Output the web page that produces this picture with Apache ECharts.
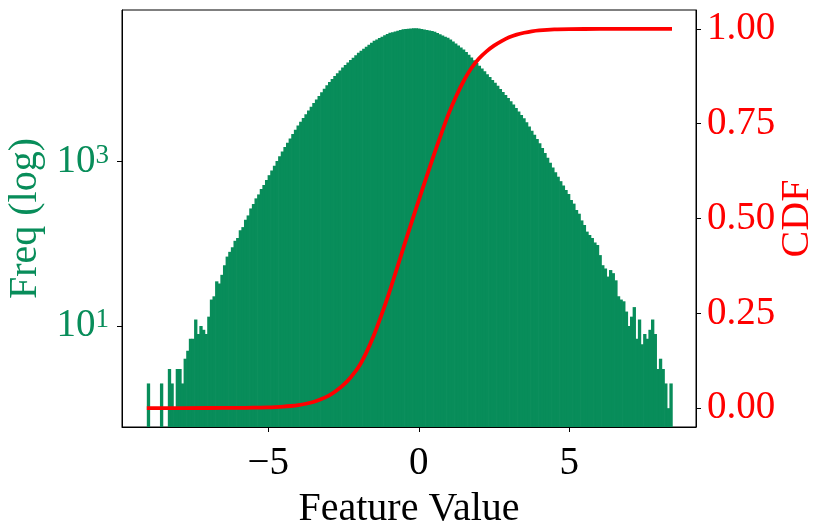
<!DOCTYPE html>
<html>
<head>
<meta charset="utf-8">
<script src="https://cdn.jsdelivr.net/npm/echarts@6/dist/echarts.min.js"></script>
<style>
html,body{margin:0;padding:0;background:#fff;}
#chart{width:831px;height:528px;}
</style>
</head>
<body>
<div id="chart"></div>
<script>
// ---- data ----
const binStart = -9.03;
const binWidth = 0.0872;
const counts = [
  2,0,0,0,0,2,0,0,3,2,
  1,3,3,2,4,5,7,7,12,8,
  10,9,8,13,21,23,35,33,42,55,
  70,80,91,109,118,146,160,197,222,270,
  305,358,400,466,521,601,686,783,894,1021,
  1167,1331,1510,1702,1919,2168,2443,2754,3069,3404,
  3784,4198,4656,5170,5715,6324,6990,7727,8543,9376,
  10160,11020,11940,12940,14000,15070,16140,17280,18490,19820,
  21230,22470,23770,25120,26580,28120,29680,30830,32020,33270,
  34580,35920,37040,37790,38550,39340,40140,40950,41400,41680,
  41960,42170,42030,41890,41300,40680,40090,39490,38920,38190,
  36900,35660,34460,33310,32190,30780,29100,27510,26010,24590,
  23240,21640,20060,18590,17220,15950,14770,13640,12590,11620,
  10720,9890,9120,8383,7705,7078,6508,5983,5464,4963,
  4503,4090,3715,3375,3016,2682,2388,2126,1892,1682,
  1466,1279,1116,974,850,744,657,580,512,453,
  405,342,309,258,233,193,170,141,128,118,
  104,97,73,55,50,40,48,44,36,23,
  21,20,15,10,13,17,7,12,6,8,
  7,9,12,8,3,4,3,2,1,2
];
const cdfX = [-9.03,-7,-6,-5.5,-5,-4.75,-4.5,-4.25,-4,-3.75,-3.5,-3.25,-3,-2.75,-2.5,-2.25,-2,-1.75,-1.5,-1.25,-1,-0.75,-0.5,-0.25,
  0,0.25,0.5,0.75,1,1.25,1.5,1.75,2,2.25,2.5,2.75,3,3.25,3.5,3.75,4,4.5,5,6,7,8.41];
const cdfY = [0,0.0001,0.0005,0.0009,0.0016,0.0024,0.0036,0.0054,0.0078,0.0113,0.016,0.023,0.032,0.045,0.061,0.082,0.108,0.145,0.19,0.243,0.30,0.362,0.425,0.487,
  0.548,0.608,0.667,0.724,0.778,0.824,0.864,0.897,0.922,0.941,0.956,0.968,0.978,0.985,0.990,0.9938,0.9963,0.9989,0.9997,0.99995,1.0,1.0];
const xTicks = [-5, 0, 5];
const freqTicks = [10, 1000];
const cdfTicks = [0, 0.25, 0.5, 0.75, 1];

// ---- chart ----
const GREEN = '#088d5a';
const RED = '#ff0000';
const FONT = "'Liberation Serif', 'Times New Roman', 'DejaVu Serif', serif";
const Y_MIN = 0.59, Y_MAX = 70300;

const histData = [];
counts.forEach((c, i) => {
  if (c > 0) histData.push([binStart + i * binWidth, binStart + (i + 1) * binWidth, c]);
});
const cdfData = cdfX.map((x, i) => [x, cdfY[i]]);

const chart = echarts.init(document.getElementById('chart'), null, {renderer: 'canvas'});
chart.setOption({
  animation: false,
  backgroundColor: '#fff',
  grid: {left: 122, top: 10, width: 574, height: 417, containLabel: false, outerBoundsMode: 'none',
    show: true, borderColor: '#000', borderWidth: 1, backgroundColor: 'transparent'},
  xAxis: {
    type: 'value', min: -9.854, max: 9.206,
    splitLine: {show: false},
    axisLine: {show: true, onZero: false, lineStyle: {color: '#000', width: 1}},
    axisTick: {show: true, length: 5, lineStyle: {color: '#000'}, customValues: xTicks},
    axisLabel: {
      customValues: xTicks, margin: 17, color: '#000', fontSize: 39, fontFamily: FONT,
      formatter: v => (v < 0 ? '\u2212' + Math.abs(v) : String(v))
    },
    name: 'Feature Value', nameLocation: 'middle', nameGap: 62,
    nameTextStyle: {color: '#000', fontSize: 40, fontFamily: FONT}
  },
  yAxis: [{
    type: 'log', min: Y_MIN, max: Y_MAX, position: 'left',
    splitLine: {show: false}, minorTick: {show: false},
    axisLine: {show: true, onZero: false, lineStyle: {color: '#000', width: 1}},
    axisTick: {show: true, length: 5, lineStyle: {color: '#000'}, customValues: freqTicks},
    axisLabel: {
      customValues: freqTicks, margin: 13, color: GREEN, fontFamily: FONT,
      formatter: v => '{b|10}{s|' + Math.round(Math.log10(v)) + '}',
      rich: {
        b: {fontSize: 39, fontFamily: FONT, color: GREEN, verticalAlign: 'bottom', lineHeight: 39, padding: [10, 0, 0, 0]},
        s: {fontSize: 27, fontFamily: FONT, color: GREEN, verticalAlign: 'top', lineHeight: 27}
      }
    },
    name: 'Freq (log)', nameLocation: 'middle', nameGap: 73, nameRotate: 90,
    nameTextStyle: {color: GREEN, fontSize: 40, fontFamily: FONT}
  }, {
    type: 'value', min: -0.05, max: 1.05, position: 'right',
    splitLine: {show: false},
    axisLine: {show: true, onZero: false, lineStyle: {color: '#000', width: 1}},
    axisTick: {show: true, length: 5, lineStyle: {color: '#000'}, customValues: cdfTicks},
    axisLabel: {
      customValues: cdfTicks, margin: 11, color: RED, fontSize: 39, fontFamily: FONT,
      formatter: v => v.toFixed(2)
    },
    name: 'CDF', nameLocation: 'middle', nameGap: 81, nameRotate: 90, nameMoveOverlap: false,
    nameTextStyle: {color: RED, fontSize: 40, fontFamily: FONT}
  }],
  series: [{
    type: 'custom',
    xAxisIndex: 0, yAxisIndex: 0,
    encode: {x: [0, 1], y: 2},
    clip: true,
    data: histData,
    renderItem: function (params, api) {
      const p0 = api.coord([api.value(0), Y_MIN]);
      const p1 = api.coord([api.value(1), api.value(2)]);
      return {
        type: 'rect',
        shape: {x: p0[0], y: p1[1], width: p1[0] - p0[0] + 0.7, height: p0[1] - p1[1]},
        style: {fill: GREEN}
      };
    },
    z: 1
  }, {
    type: 'line',
    xAxisIndex: 0, yAxisIndex: 1,
    data: cdfData,
    showSymbol: false, symbol: 'none',
    smooth: 0.3,
    lineStyle: {color: RED, width: 3.8, cap: 'butt', join: 'round'},
    z: 5
  }]
});
</script>
</body>
</html>
